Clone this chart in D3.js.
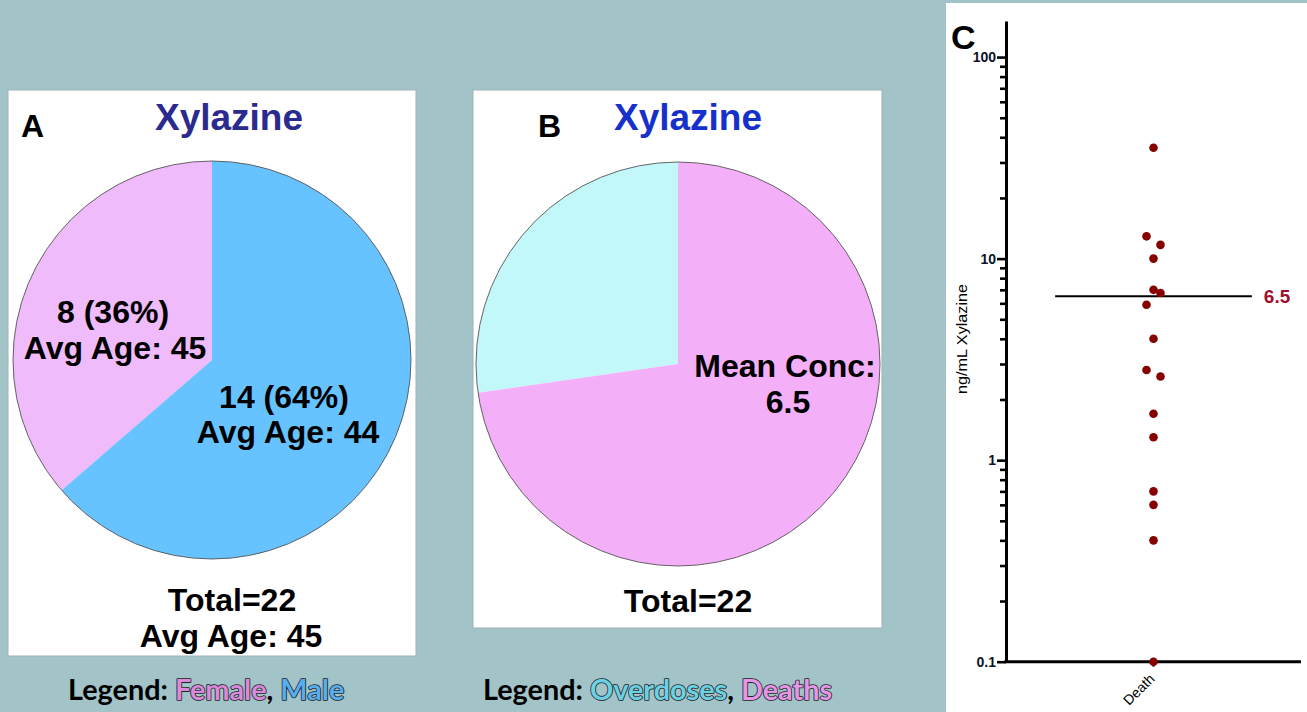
<!DOCTYPE html>
<html><head><meta charset="utf-8">
<script src="https://cdn.jsdelivr.net/npm/d3@7"></script>
<style>html,body{margin:0;padding:0;background:#A2C4C9;} svg{display:block}</style>
</head><body><svg id="c" width="1307" height="712"></svg>
<script>
// ---------- data ----------
const sexCategories = ["Female", "Male"];
const sexCounts = [8, 14];
const sexAvgAge = [45, 44];
const overallAvgAge = 45;
const outcomeCategories = ["Overdoses", "Deaths"];
const outcomeCounts = [6, 16];
const meanConcentration = 6.5;
const deathCategory = ["Death"];
const deathConcentrations = [35.5, 12.9, 11.7, 10, 7.0, 6.75, 5.9, 4.0, 2.8, 2.6, 1.7, 1.3, 0.7, 0.6, 0.4, 0.1];
const yTickValues = [0.1, 1, 10, 100];
const yTickLabels = ["0.1", "1", "10", "100"];
const panelTitle = "Xylazine";

// ---------- styles ----------
const sexColors = {Female: "#EFBBFB", Male: "#66C3FF"};
const sexLegendColors = {Female: "#D98ADD", Male: "#55AEEE"};
const outcomeColors = {Overdoses: "#C3F8FA", Deaths: "#F4AFF9"};
const outcomeLegendColors = {Overdoses: "#6AD2E4", Deaths: "#E496E9"};
const FONT = "'Liberation Sans', Arial, sans-serif";
const LEGFONT = "Lato, 'Open Sans', sans-serif";

const svg = d3.select("#c");
svg.append("rect").attr("width", 1307).attr("height", 712).attr("fill", "#A2C4C9");

function panelBox(x, y, w, h) {
  svg.append("rect").attr("x", x).attr("y", y).attr("width", w).attr("height", h)
    .attr("fill", "#fff").attr("stroke", "#9fb0b3").attr("stroke-width", 1);
}
function txt(g, x, y, s, size, opts = {}) {
  return g.append("text").attr("x", x).attr("y", y).text(s)
    .attr("font-family", opts.family || FONT).attr("font-weight", opts.weight || "bold")
    .attr("font-size", size).attr("fill", opts.fill || "#000")
    .attr("text-anchor", opts.anchor || "middle");
}

function drawPie(cx, cy, r, cats, counts, colors) {
  const total = d3.sum(counts);
  const start = -2 * Math.PI * counts[0] / total;
  const pie = d3.pie().sort(null).value(d => d.v).startAngle(start).endAngle(start + 2 * Math.PI);
  const arcs = pie(cats.map((c, i) => ({c, v: counts[i]})));
  const arc = d3.arc().innerRadius(0).outerRadius(r);
  const g = svg.append("g").attr("transform", `translate(${cx},${cy})`);
  g.selectAll("path").data(arcs).join("path").attr("d", arc).attr("fill", d => colors[d.data.c]);
  g.append("circle").attr("r", r).attr("fill", "none").attr("stroke", "#555").attr("stroke-width", 0.9);
  return g;
}

function legend(x, y, cats, colors) {
  const t = svg.append("text").attr("x", x).attr("y", y)
    .attr("font-family", LEGFONT).attr("font-weight", "bold").attr("font-size", 28.8);
  t.append("tspan").text("Legend: ").attr("fill", "#000");
  cats.forEach((c, i) => {
    t.append("tspan").text(c).attr("fill", colors[c]).attr("stroke", "#222")
      .attr("stroke-width", 1.6).attr("paint-order", "stroke").attr("stroke-linejoin", "round");
    if (i < cats.length - 1) t.append("tspan").text(", ").attr("fill", "#000");
  });
}

// ---------- Panel A ----------
panelBox(8, 90, 408, 566);
txt(svg, 21, 137, "A", 32, {anchor: "start"});
txt(svg, 229, 130, panelTitle, 37, {fill: "#2B2A8E"});
const sexTotal = d3.sum(sexCounts);
const gA = drawPie(212, 360, 199, sexCategories, sexCounts, sexColors);
const pct = i => Math.round(100 * sexCounts[i] / sexTotal);
txt(gA, -99, -37, `${sexCounts[0]} (${pct(0)}%)`, 32);
txt(gA, -97, -1, `Avg Age: ${sexAvgAge[0]}`, 32);
txt(gA, 72, 48, `${sexCounts[1]} (${pct(1)}%)`, 32);
txt(gA, 76, 83, `Avg Age: ${sexAvgAge[1]}`, 32);
txt(svg, 232, 611, `Total=${sexTotal}`, 32);
txt(svg, 231, 647, `Avg Age: ${overallAvgAge}`, 32);
legend(68, 700, sexCategories, sexLegendColors);

// ---------- Panel B ----------
panelBox(473, 90, 409, 538);
txt(svg, 538, 137, "B", 32, {anchor: "start"});
txt(svg, 688, 130, panelTitle, 37, {fill: "#1630CC"});
const gB = drawPie(678, 364, 202, outcomeCategories, outcomeCounts, outcomeColors);
txt(gB, 107, 13, "Mean Conc:", 32);
txt(gB, 110, 49, `${meanConcentration}`, 32);
txt(svg, 688, 612, `Total=${d3.sum(outcomeCounts)}`, 32);
legend(483, 700, outcomeCategories, outcomeLegendColors);

// ---------- Panel C ----------
svg.append("rect").attr("x", 946).attr("y", 3).attr("width", 361).attr("height", 709).attr("fill", "#fff");
txt(svg, 951, 49, "C", 34, {anchor: "start"});

const y = d3.scaleLog().domain([0.1, 151]).range([661.7, 21]);
const x = d3.scaleBand().domain(deathCategory).range([1006, 1301]).padding(0);
const gC = svg.append("g");

// minor ticks
const minor = [];
[0.1, 1, 10].forEach(dec => { for (let k = 2; k <= 9; k++) minor.push(+(dec * k).toFixed(3)); });
gC.append("g").attr("transform", "translate(1006,0)")
  .call(d3.axisLeft(y).tickValues(minor).tickSize(6).tickFormat(""))
  .call(g => g.select(".domain").remove())
  .call(g => g.selectAll("line").attr("stroke", "#000").attr("stroke-width", 2.6));

const yAx = gC.append("g").attr("transform", "translate(1006,0)")
  .call(d3.axisLeft(y).tickValues(yTickValues).tickFormat((d, i) => yTickLabels[i]).tickSize(9).tickSizeOuter(0).tickPadding(1));
yAx.select(".domain").attr("stroke", "#000").attr("stroke-width", 3);
yAx.selectAll(".tick line").attr("stroke", "#000").attr("stroke-width", 2.6);
yAx.selectAll(".tick text").attr("font-family", FONT).attr("font-weight", "bold")
  .attr("font-size", 14).attr("fill", "#0d1226");

const xAx = gC.append("g").attr("transform", `translate(0,${y(0.1)})`)
  .call(d3.axisBottom(x).tickSize(5).tickSizeOuter(0));
xAx.select(".domain").attr("stroke", "#000").attr("stroke-width", 3).attr("d", `M1004.5,0H1301`);
xAx.selectAll(".tick line").attr("stroke", "#000").attr("stroke-width", 2);
xAx.selectAll(".tick text").attr("font-family", FONT).attr("font-size", 14).attr("fill", "#000")
  .attr("text-anchor", "end").attr("dy", 0).attr("y", 0)
  .attr("transform", "translate(2,18) rotate(-45)");

// y title
gC.append("text").attr("transform", "translate(967,339) rotate(-90)")
  .attr("text-anchor", "middle").attr("font-family", FONT).attr("font-size", 14.5)
  .attr("textLength", 110).attr("lengthAdjust", "spacingAndGlyphs")
  .text("ng/mL  Xylazine");

// scatter layout: group points whose pixel gaps are small, spread each group sideways
const cx0 = x("Death") + x.bandwidth() / 2;
const step = 7, gap = 12.5;
const sorted = deathConcentrations.slice().sort((a, b) => b - a);
const groups = [];
sorted.forEach(v => {
  const last = groups[groups.length - 1];
  if (last && y(v) - y(last[last.length - 1]) < gap) last.push(v); else groups.push([v]);
});
const spread = {1: [0], 2: [-1, 1], 3: [0, 1, -1], 4: [-1, 1, -2, 2]};
const placed = [];
groups.forEach(g => g.forEach((v, i) => placed.push({v, x: cx0 + spread[g.length][i] * step, y: y(v)})));

// mean line
gC.append("line").attr("x1", cx0 - x.bandwidth() / 3).attr("x2", cx0 + x.bandwidth() / 3)
  .attr("y1", y(meanConcentration)).attr("y2", y(meanConcentration))
  .attr("stroke", "#000").attr("stroke-width", 2);
gC.selectAll("circle.pt").data(placed).join("circle").attr("class", "pt")
  .attr("cx", d => d.x).attr("cy", d => d.y).attr("r", 4.3).attr("fill", "#860000");
gC.append("text").attr("x", cx0 + x.bandwidth() / 3 + 12).attr("y", y(meanConcentration) + 6.5)
  .attr("font-family", FONT).attr("font-weight", "bold").attr("font-size", 19)
  .attr("fill", "#A0102C").text(meanConcentration);
</script></body></html>
